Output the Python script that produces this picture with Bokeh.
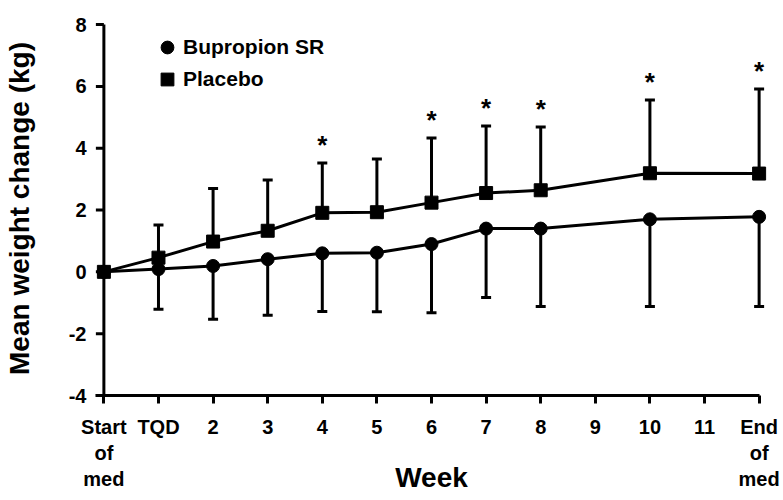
import numpy as np
from bokeh.plotting import figure
from bokeh.models import (ColumnDataSource, Range1d, FixedTicker, Whisker, TeeHead,
                          Legend, LegendItem)
from bokeh.core.properties import value
from bokeh.embed import file_html
from bokeh.resources import INLINE

# ---- data ----
week_labels = ["Start\nof\nmed", "TQD", "2", "3", "4", "5", "6", "7", "8", "9", "10", "11", "End\nof\nmed"]
visits = ["Start\nof\nmed", "TQD", "2", "3", "4", "5", "6", "7", "8", "10", "End\nof\nmed"]
bupropion_mean = [0.0, 0.09, 0.19, 0.41, 0.60, 0.62, 0.90, 1.40, 1.40, 1.70, 1.78]
bupropion_sd = [0.0, 1.30, 1.72, 1.81, 1.88, 1.91, 2.22, 2.23, 2.52, 2.82, 2.90]
placebo_mean = [0.0, 0.46, 0.98, 1.33, 1.91, 1.93, 2.24, 2.55, 2.64, 3.19, 3.18]
placebo_sd = [0.0, 1.06, 1.72, 1.64, 1.61, 1.72, 2.09, 2.17, 2.05, 2.37, 2.74]
significant = [False, False, False, False, True, False, True, True, True, True, True]
y_ticks = [-4, -2, 0, 2, 4, 6, 8]

FONT = "Liberation Sans"
TICK_PX = 8

x_pos = np.array([week_labels.index(v) for v in visits], dtype=float)
b = np.array(bupropion_mean)
bsd = np.array(bupropion_sd)
pl = np.array(placebo_mean)
psd = np.array(placebo_sd)
sig = np.array(significant)

src = ColumnDataSource(dict(x=x_pos, b=b, p=pl))
mb = bsd > 0
mp = psd > 0
b_err = ColumnDataSource(dict(x=x_pos[mb], base=b[mb], lo=(b - bsd)[mb]))
p_err = ColumnDataSource(dict(x=x_pos[mp], base=pl[mp], hi=(pl + psd)[mp]))
stars = ColumnDataSource(dict(x=x_pos[sig], y=(pl + psd)[sig], t=["*"] * int(sig.sum())))

x_first, x_last = 0.0, float(len(week_labels) - 1)
pad = 0.3
frame_w = 688
px_per_x = frame_w / (x_last - x_first + 2 * pad)
yt = np.array(y_ticks, dtype=float)

p = figure(frame_width=frame_w, frame_height=374,
           x_range=Range1d(x_first - pad, x_last + pad), y_range=Range1d(yt[0], yt[-1] + 0.1),
           min_border_left=85, min_border_top=21, min_border_bottom=100, min_border_right=5,
           output_backend="svg", toolbar_location=None)
p.outline_line_color = None
p.xgrid.visible = False
p.ygrid.visible = False

# y axis rule and ticks drawn at the first category position
tick_x0 = x_first - TICK_PX / px_per_x
p.line(x=np.array([x_first, x_first]), y=np.array([yt[0], yt[-1]]),
       line_width=3, line_color="black")
p.multi_line(xs=[np.array([tick_x0, x_first]) for _ in yt],
             ys=[np.array([t, t]) for t in yt],
             line_width=3, line_color="black")

# error bars
wb = Whisker(source=b_err, base="x", upper="base", lower="lo", dimension="height",
             line_width=3, line_color="black", upper_head=None,
             lower_head=TeeHead(size=10, line_width=3, line_color="black"), level="underlay")
wp = Whisker(source=p_err, base="x", upper="hi", lower="base", dimension="height",
             line_width=3, line_color="black", lower_head=None,
             upper_head=TeeHead(size=10, line_width=3, line_color="black"), level="underlay")
p.add_layout(wb)
p.add_layout(wp)

p.line("x", "b", source=src, line_width=3, line_color="black")
circ = p.scatter("x", "b", source=src, marker="circle", size=13, color="black")
p.line("x", "p", source=src, line_width=3, line_color="black")
sq = p.scatter("x", "p", source=src, marker="square", size=13, color="black")

p.text("x", "y", text="t", source=stars, text_font=value(FONT), text_font_style="bold",
       text_font_size="26px", text_align="center", text_baseline="alphabetic",
       y_offset=-18, text_color="black")

# x axis
xa = p.xaxis[0]
xa.axis_line_width = 3
xa.axis_line_color = "black"
xa.major_tick_line_width = 3
xa.major_tick_line_color = "black"
xa.major_tick_out = TICK_PX
xa.major_tick_in = 0
xa.minor_tick_line_color = None
xa.major_label_text_font = FONT
xa.major_label_text_font_style = "bold"
xa.major_label_text_font_size = "20px"
xa.major_label_text_color = "black"
xa.major_label_standoff = 12
xa.ticker = FixedTicker(ticks=list(range(len(week_labels))))
xa.major_label_overrides = {i: lab for i, lab in enumerate(week_labels)}
xa.bounds = (tick_x0, x_last)
xa.axis_label = "Week"
xa.axis_label_text_font = FONT
xa.axis_label_text_font_style = "bold"
xa.axis_label_text_font_size = "28px"
xa.axis_label_text_color = "black"
xa.axis_label_standoff = -31

# y axis (labels only; rule drawn at first category)
ya = p.yaxis[0]
ya.axis_line_color = None
ya.major_tick_line_color = None
ya.major_tick_out = 0
ya.major_tick_in = 0
ya.minor_tick_line_color = None
ya.ticker = FixedTicker(ticks=y_ticks)
ya.major_label_overrides = {t: str(t) for t in y_ticks}
ya.major_label_text_font = FONT
ya.major_label_text_font_style = "bold"
ya.major_label_text_font_size = "20px"
ya.major_label_text_color = "black"
ya.major_label_standoff = 1
ya.axis_label = "Mean weight change (kg)"
ya.axis_label_text_font = FONT
ya.axis_label_text_font_style = "bold"
ya.axis_label_text_font_size = "28px"
ya.axis_label_text_color = "black"
ya.axis_label_standoff = 31

legend = Legend(items=[LegendItem(label="Bupropion SR", renderers=[circ]),
                       LegendItem(label="Placebo", renderers=[sq])],
                location=(64, 300), glyph_width=32, glyph_height=32, label_standoff=0,
                padding=0, spacing=0, margin=0, border_line_color=None,
                background_fill_alpha=0, label_text_font=FONT,
                label_text_font_style="bold", label_text_font_size="21px",
                label_text_color="black")
p.add_layout(legend)

open("out.html", "w").write(file_html(p, INLINE))
